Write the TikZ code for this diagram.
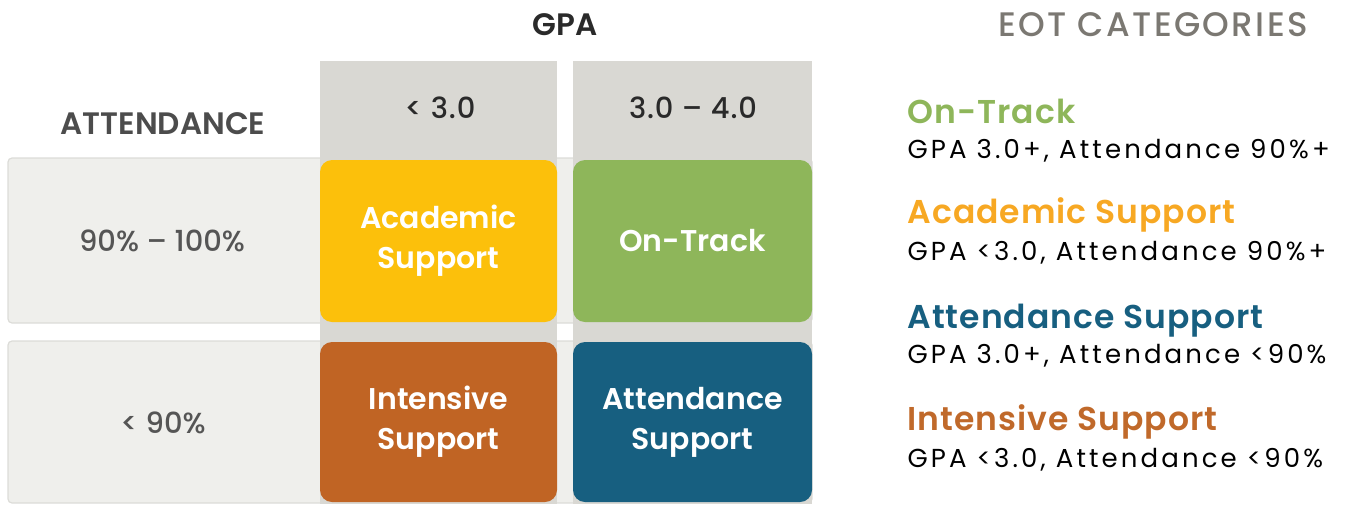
\documentclass[tikz,border=0pt]{standalone}
\usepackage{fontspec}
\setmainfont{Poppins}
\newfontfamily\geo{Poppins}
\newfontfamily\geomed{Poppins Medium}
\newfontfamily\geosemi{Poppins SemiBold}
\definecolor{colgray}{HTML}{D9D8D3}
\definecolor{bandfill}{HTML}{EFEFEC}
\definecolor{bandline}{HTML}{DCDCD8}
\definecolor{tileyellow}{HTML}{FCC00B}
\definecolor{tilegreen}{HTML}{8EB65A}
\definecolor{tileorange}{HTML}{C06424}
\definecolor{tileblue}{HTML}{175F80}
\definecolor{headdark}{HTML}{2A2A2A}
\definecolor{rowtext}{HTML}{555555}
\definecolor{eotgray}{HTML}{7B7872}
\definecolor{acadorange}{HTML}{F7A823}
\definecolor{intorange}{HTML}{C0692A}
\begin{document}
\begin{tikzpicture}[x=1pt,y=-1pt,
  band/.style={draw=bandline,line width=1.2pt,fill=bandfill,rounded corners=4pt,inner sep=0pt},
  column/.style={fill=colgray,inner sep=0pt},
  tile/.style={rounded corners=12pt,inner sep=0pt,text=white,align=center,
    font=\geosemi\fontsize{30}{40}\selectfont},
  colhead/.style={text=headdark,font=\geomed\fontsize{29}{32}\selectfont\addfontfeature{LetterSpace=3}},
  rowhead/.style={text=rowtext,font=\geomed\fontsize{29}{32}\selectfont},
  cattitle/.style={anchor=base west,font=\geosemi\fontsize{33}{38}\selectfont\addfontfeature{LetterSpace=3}},
  catdesc/.style={anchor=base west,text=black,font=\geo\fontsize{26}{30}\selectfont\addfontfeature{LetterSpace=12}}]
\useasboundingbox (0,0) rectangle (1345,504);

% attendance bands (bottom layer)
\node[band,minimum width=804pt,minimum height=165pt] (band1) at (410,240.5) {};
\node[band,minimum width=804pt,minimum height=162pt] (band2) at (410,422) {};

% GPA columns
\node[column,minimum width=237pt,minimum height=443pt] (col1) at (438.5,282.5) {};
\node[column,minimum width=239pt,minimum height=443pt] (col2) at (692.5,282.5) {};

% category tiles
\node[tile,fill=tileyellow,minimum width=237pt,minimum height=162pt] (acad) at (438.5,241) {Academic\\Support};
\node[tile,fill=tilegreen,minimum width=239pt,minimum height=162pt] (ontrack) at (692.5,241) {On-Track};
\node[tile,fill=tileorange,minimum width=237pt,minimum height=160pt] (intens) at (438.5,422) {Intensive\\Support};
\node[tile,fill=tileblue,minimum width=239pt,minimum height=160pt] (attend) at (692.5,422) {Attendance\\Support};

% axis headings
\node[text=headdark,font=\geosemi\fontsize{31}{34}\selectfont] (gpa) at (565,25) {GPA};
\node[text=rowtext!90!black,font=\geosemi\fontsize{31}{34}\selectfont] (attlabel) at (163,124) {ATTENDANCE};
\node[colhead] (gpalow) at (440,108) {< 3.0};
\node[colhead] (gpahigh) at (693,108) {3.0 – 4.0};
\node[rowhead] (atthigh) at (162,241) {90\% – 100\%};
\node[rowhead] (attlow) at (163,423) {< 90\%};

% legend
\node[text=eotgray,font=\geomed\fontsize{34}{36}\selectfont\addfontfeature{LetterSpace=7}] (eot) at (1153,25) {EOT CATEGORIES};
\node[cattitle,text=tilegreen] (lt1) at (904,123) {On-Track};
\node[catdesc] (ld1) at (904,158) {GPA 3.0+, Attendance 90\%+};
\node[cattitle,text=acadorange] (lt2) at (904,223) {Academic Support};
\node[catdesc] (ld2) at (904,260) {GPA <3.0, Attendance 90\%+};
\node[cattitle,text=tileblue] (lt3) at (904,328) {Attendance Support};
\node[catdesc] (ld3) at (904,363) {GPA 3.0+, Attendance <90\%};
\node[cattitle,text=intorange] (lt4) at (904,430) {Intensive Support};
\node[catdesc] (ld4) at (904,467) {GPA <3.0, Attendance <90\%};
\end{tikzpicture}
\end{document}
